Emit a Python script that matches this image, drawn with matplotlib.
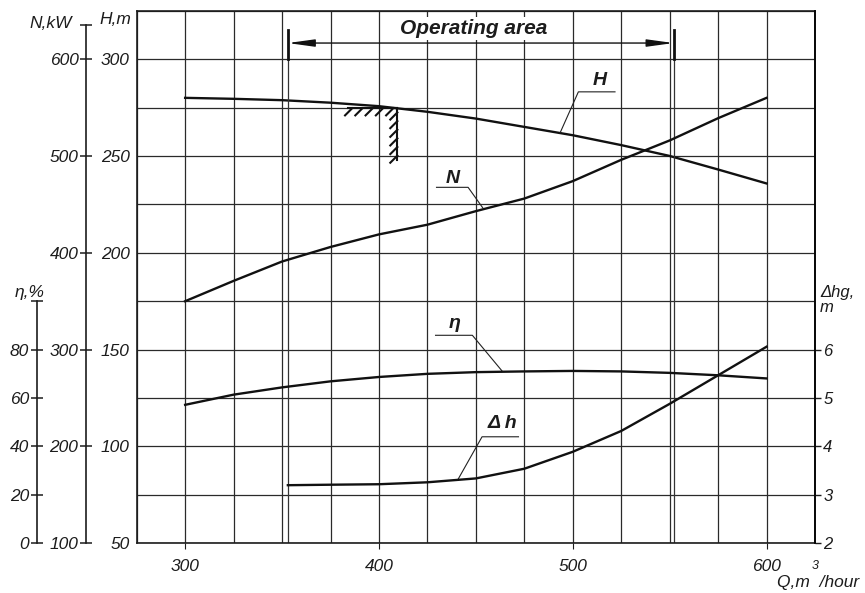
import numpy as np
import matplotlib.pyplot as plt
import matplotlib.patheffects as pe

plt.rcParams['font.family'] = ['Liberation Sans', 'DejaVu Sans']
plt.rcParams['font.style'] = 'italic'

# data
q = [300, 325, 350, 375, 400, 425, 450, 475, 500, 525, 550, 575, 600]
head = [280, 279.5, 278.8, 277.5, 275.7, 272.8, 269.3, 265, 260.7, 255.6, 250, 243, 235.8]
power = [350, 371, 391, 406, 419, 429, 443, 456, 474, 496, 516, 539, 560]
eff = [57.2, 61.4, 64.4, 66.9, 68.7, 70.0, 70.7, 71.0, 71.2, 71.0, 70.4, 69.4, 68.1]
q_dh = [353, 375, 400, 425, 450, 475, 500, 525, 550, 575, 600]
dh = [3.2, 3.21, 3.22, 3.26, 3.34, 3.54, 3.89, 4.32, 4.88, 5.47, 6.06]

op_left, op_right = 353, 552

q_ticks = [300, 400, 500, 600]
h_ticks = [50, 100, 150, 200, 250, 300]
n_ticks = [100, 200, 300, 400, 500, 600, 635]
n_labels = ['100', '200', '300', '400', '500', '600', '']
e_ticks = [0, 20, 40, 60, 80, 100]
e_labels = ['0', '20', '40', '60', '80', '']
dh_ticks = [2, 3, 4, 5, 6]

W, H = 865, 593
ink = '#1c1c1c'


def fx(x):
    return x / W


def fy(y):
    return 1 - y / H


fig = plt.figure(figsize=(W / 100, H / 100), dpi=100)
ax = fig.add_axes([fx(136.7), fy(543.3), 678.3 / W, 532.6 / H])
ax.set_xlim(275, 625)
ax.set_ylim(50, 325)

ax.set_xticks(q_ticks)
ax.set_xticks(np.arange(275, 626, 25), minor=True)
ax.set_yticks(h_ticks)
ax.set_yticks(np.arange(50, 326, 25), minor=True)
ax.grid(True, which='both', color='#2a2a2a', lw=0.9)
ax.tick_params(axis='y', which='both', length=0, pad=5, labelsize=12.5, colors=ink)
ax.tick_params(axis='x', which='major', length=4, pad=7, labelsize=12.5, colors=ink)
ax.tick_params(axis='x', which='minor', length=0)
for s in ax.spines.values():
    s.set_linewidth(1.2)
    s.set_color(ink)

# extra axes
ax_n = ax.twinx()
ax_n.set_ylim(100, 650)
ax_e = ax.twinx()
ax_e.set_ylim(0, 220)
ax_d = ax.twinx()
ax_d.set_ylim(2, 13)

for a, pos, lo, hi, ticks, labels in [(ax_n, -0.0747, 100, 635, n_ticks, n_labels),
                                      (ax_e, -0.1474, 0, 100, e_ticks, e_labels)]:
    for k in ['top', 'bottom', 'right']:
        a.spines[k].set_visible(False)
    a.spines['left'].set_visible(True)
    a.spines['left'].set_position(('axes', pos))
    a.spines['left'].set_bounds(lo, hi)
    a.spines['left'].set_linewidth(1.2)
    a.spines['left'].set_color(ink)
    a.yaxis.set_ticks_position('left')
    a.set_yticks(ticks)
    a.set_yticklabels(labels)
    a.tick_params(axis='y', direction='inout', length=9, width=1.1, pad=1,
                  labelsize=12.5, colors=ink)

for k in ['top', 'bottom', 'left']:
    ax_d.spines[k].set_visible(False)
ax_d.spines['right'].set_linewidth(1.2)
ax_d.set_yticks(dh_ticks)
ax_d.tick_params(axis='y', length=4, width=1, pad=2, labelsize=12, colors=ink)

# curves
lw = 1.7
ax.plot(q, head, color='#111111', lw=lw)
ax_n.plot(q, power, color='#111111', lw=lw)
ax_e.plot(q, eff, color='#111111', lw=lw)
ax_d.plot(q_dh, dh, color='#111111', lw=lw)

# operating area
for x in [op_left, op_right]:
    ax.plot([x, x], [50, 300], color='#333333', lw=0.9)
    ax.plot([x, x], [300, 315], color='#111111', lw=2)
ax.annotate('', xy=(op_right, 308.3), xytext=(op_left, 308.3),
            arrowprops=dict(arrowstyle='<|-|>,head_length=1.6,head_width=0.22',
                            mutation_scale=10, lw=1, color='#111111',
                            shrinkA=0, shrinkB=0))
ax.text(449, 316, 'Operating area', ha='center', va='center', fontsize=15,
        fontweight='bold', color=ink,
        bbox=dict(boxstyle='square,pad=0.1', fc='white', ec='none'))

# hatched mark
ax.plot([384, 409.5], [274.6, 274.6], color='#111111', lw=1.5,
        path_effects=[pe.withTickedStroke(angle=-135, spacing=6, length=1.2)])
ax.plot([409.5, 409.5], [274.6, 248], color='#111111', lw=1.5,
        path_effects=[pe.withTickedStroke(angle=-45, spacing=6, length=1.2)])

# curve labels with leaders
lead = dict(color='#222222', lw=0.8)
ax.plot([493.5, 502.9, 521.8], [262, 283.1, 283.1], **lead)
ax.text(514, 289, 'H', ha='center', va='center', fontsize=14, fontweight='bold', color=ink)

ax.plot([429.7, 446, 453.5], [233.8, 233.8, 223.3], **lead)
ax.text(438, 238.6, 'N', ha='center', va='center', fontsize=14, fontweight='bold', color=ink)

ax.plot([429.2, 448.2, 463.5], [157.4, 157.4, 139], **lead)
ax.text(439, 163.5, 'η', ha='center', va='center', fontsize=14, fontweight='bold', color=ink)

ax.plot([440.8, 453.2, 472], [83, 105, 105], **lead)
ax.text(463.5, 111.6, 'Δ h', ha='center', va='center', fontsize=14, fontweight='bold', color=ink)

# axis titles
fig.text(fx(131.7), fy(20), 'H,m', ha='right', va='center', fontsize=12.5, color=ink)
fig.text(fx(71.7), fy(23), 'N,kW', ha='right', va='center', fontsize=12.5, color=ink)
fig.text(fx(30), fy(292), 'η,%', ha='center', va='center', fontsize=12.5, color=ink)
fig.text(fx(820), fy(300), 'Δhg,\nm', ha='left', va='center', fontsize=12,
         linespacing=1.05, color=ink)
fig.text(fx(777), fy(583), 'Q,m  /hour', ha='left', va='center', fontsize=12.5, color=ink)
fig.text(fx(815), fy(566), '3', ha='center', va='center', fontsize=9, color=ink)

fig.savefig('out.png', dpi=100)
